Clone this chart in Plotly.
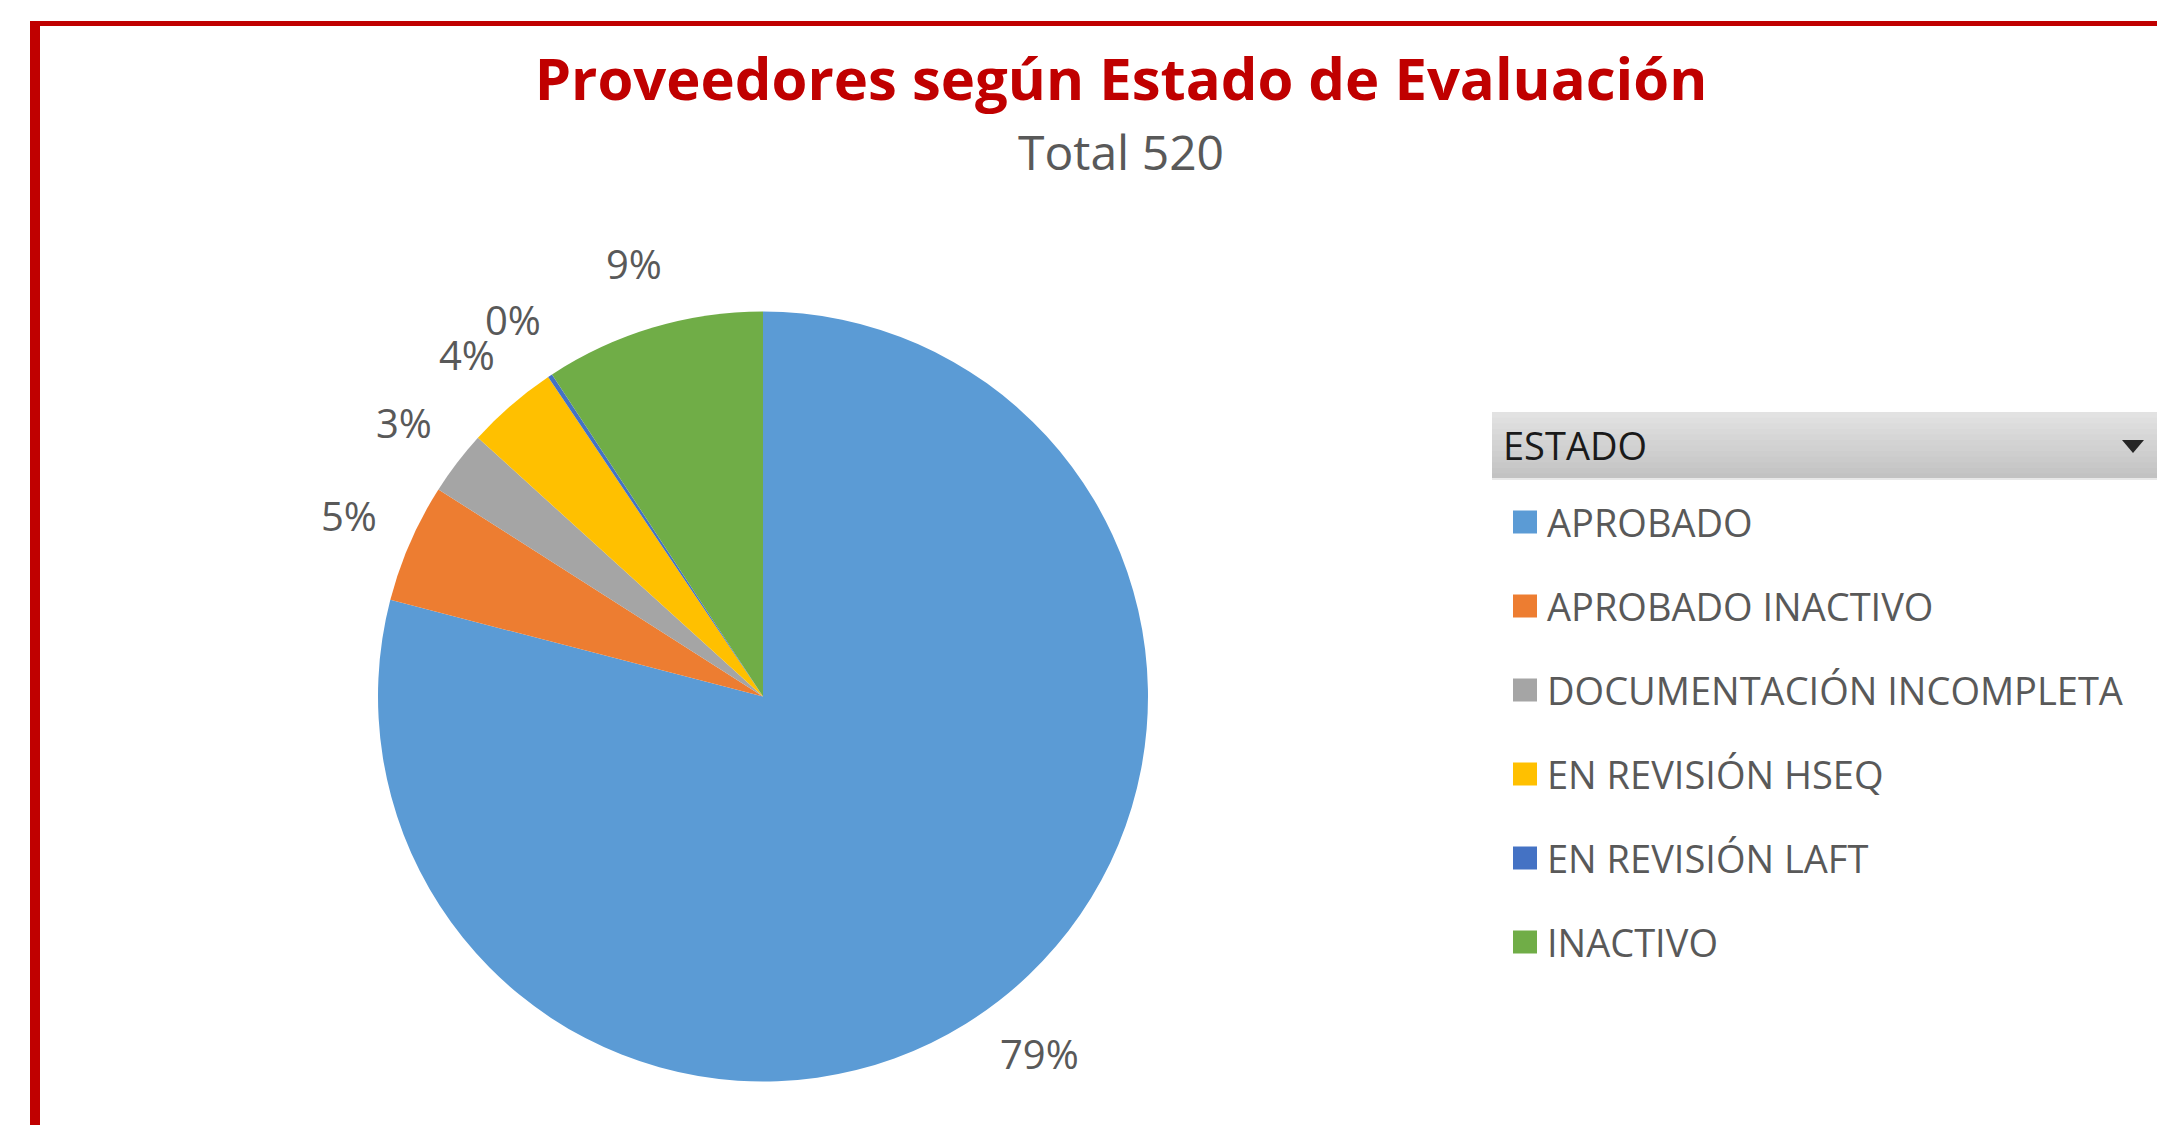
import math
import plotly.graph_objects as go

# Supplier counts by evaluation status (total 520)
estados = [
    "APROBADO",
    "APROBADO INACTIVO",
    "DOCUMENTACIÓN INCOMPLETA",
    "EN REVISIÓN HSEQ",
    "EN REVISIÓN LAFT",
    "INACTIVO",
]
proveedores = [411, 26, 14, 20, 1, 48]
colores = ["#5B9BD5", "#ED7D31", "#A5A5A5", "#FFC000", "#4472C4", "#70AD47"]

titulo = "Proveedores según Estado de Evaluación"
campo_leyenda = "ESTADO"

W, H = 2157, 1125
FONT = "Open Sans"
GRIS_TEXTO = "#595959"
ROJO = "#C00000"


def px(x):
    return x / W


def py(y):
    return 1 - y / H


total = sum(proveedores)

# pie geometry (pixels)
cx, cy, r = 763, 696.5, 385

fig = go.Figure()
fig.add_trace(
    go.Pie(
        labels=estados,
        values=proveedores,
        marker=dict(colors=colores, line=dict(width=0)),
        sort=False,
        direction="clockwise",
        rotation=0,
        textinfo="none",
        showlegend=False,
        hovertemplate="%{label}<br>%{value} (%{percent})<extra></extra>",
        domain=dict(x=[px(cx - r), px(cx + r)], y=[py(cy + r), py(cy - r)]),
    )
)

annotations = []
shapes = []

# percentage labels outside each slice, at the slice's mid angle
acum = 0
r_label = 452
for n in proveedores:
    mid = (acum + n / 2) / total * 2 * math.pi
    acum += n
    lx = cx + r_label * math.sin(mid)
    ly = cy - r_label * math.cos(mid)
    annotations.append(
        dict(
            x=px(lx), y=py(ly), xref="paper", yref="paper",
            text=f"{round(100 * n / total)}%", showarrow=False,
            xanchor="center", yanchor="middle",
            font=dict(family=FONT, size=40, color=GRIS_TEXTO),
        )
    )

# subtitle with the total
annotations.append(
    dict(
        x=px(1121), y=py(152), xref="paper", yref="paper",
        text=f"Total {total}", showarrow=False,
        xanchor="center", yanchor="middle",
        font=dict(family=FONT, size=48, color=GRIS_TEXTO),
    )
)

# chart frame (top and left red edges)
shapes.append(dict(type="line", xref="paper", yref="paper",
                   x0=px(30), x1=px(W + 20), y0=py(23.5), y1=py(23.5),
                   line=dict(color=ROJO, width=5)))
shapes.append(dict(type="line", xref="paper", yref="paper",
                   x0=px(35), x1=px(35), y0=py(21), y1=py(H + 20),
                   line=dict(color=ROJO, width=10)))

# legend field header: grey gradient bar with dropdown arrow
hx0, hy0, hy1 = 1492, 412, 479
pasos = 12
c_top, c_bot = (226, 226, 226), (194, 194, 194)
for i in range(pasos):
    t = i / (pasos - 1)
    c = tuple(round(a + (b - a) * t) for a, b in zip(c_top, c_bot))
    ya = hy0 + (hy1 - hy0) * i / pasos
    yb = min(hy1, hy0 + (hy1 - hy0) * (i + 1) / pasos + 1.5)
    shapes.append(dict(type="rect", xref="paper", yref="paper",
                       x0=px(hx0), x1=px(W + 10), y0=py(yb), y1=py(ya),
                       fillcolor=f"rgb{c}", line=dict(width=0), layer="below"))
shapes.append(dict(type="line", xref="paper", yref="paper",
                   x0=px(hx0), x1=px(W + 10), y0=py(hy1), y1=py(hy1),
                   line=dict(color="#E8E8E8", width=2)))
shapes.append(dict(type="path", xref="paper", yref="paper",
                   path=f"M {px(2122)} {py(440)} L {px(2144)} {py(440)} L {px(2133)} {py(453)} Z",
                   fillcolor="#262626", line=dict(width=0)))
annotations.append(
    dict(
        x=px(1501), y=py(445), xref="paper", yref="paper",
        text=campo_leyenda, showarrow=False,
        xanchor="left", yanchor="middle",
        font=dict(family=FONT, size=38, color="#1A1A1A"),
    )
)

# legend entries: colour square + status name
ley_y0, ley_paso = 522, 84
for i, (estado, color) in enumerate(zip(estados, colores)):
    yc = ley_y0 + ley_paso * i
    shapes.append(dict(type="rect", xref="paper", yref="paper",
                       x0=px(1513), x1=px(1537), y0=py(yc + 11.5), y1=py(yc - 11.5),
                       fillcolor=color, line=dict(width=0)))
    annotations.append(
        dict(
            x=px(1545), y=py(yc), xref="paper", yref="paper",
            text=estado, showarrow=False,
            xanchor="left", yanchor="middle",
            font=dict(family=FONT, size=38, color=GRIS_TEXTO),
        )
    )

fig.update_layout(
    width=W,
    height=H,
    margin=dict(l=0, r=0, t=0, b=0),
    paper_bgcolor="white",
    plot_bgcolor="white",
    title=dict(
        text=f"<b>{titulo}</b>",
        x=px(1121), xanchor="center",
        y=py(80), yanchor="middle", yref="container",
        font=dict(family=FONT, size=58, color=ROJO),
    ),
    annotations=annotations,
    shapes=shapes,
)

fig.write_html("out.html")
